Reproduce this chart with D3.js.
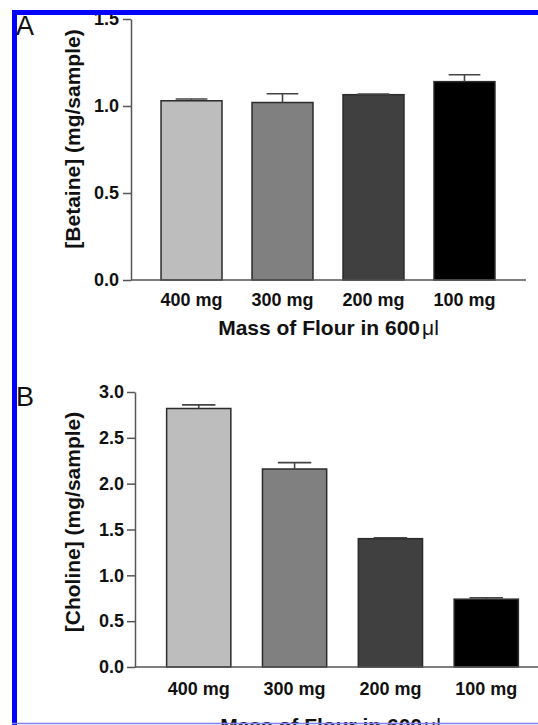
<!DOCTYPE html>
<html>
<head>
<meta charset="utf-8">
<script src="https://cdn.jsdelivr.net/npm/d3@7"></script>
<style>
  body { margin: 0; background: #fff; }
  svg { display: block; font-family: "Liberation Sans", Arial, sans-serif; }
</style>
</head>
<body>
<div id="chart"></div>
<script>
// data
const categories = ["400 mg", "300 mg", "200 mg", "100 mg"];
const betaineMeans = [1.03, 1.02, 1.065, 1.14];
const betaineErr = [0.01, 0.05, 0.003, 0.04];
const cholineMeans = [2.82, 2.16, 1.40, 0.74];
const cholineErr = [0.04, 0.07, 0.01, 0.015];
const betaineTicks = [0, 0.5, 1.0, 1.5];
const cholineTicks = [0, 0.5, 1.0, 1.5, 2.0, 2.5, 3.0];

const width = 538, height = 725;

const svg = d3.select("#chart")
    .append("svg")
    .attr("width", width)
    .attr("height", height);

// grey levels for the four bars
const fill = d3.scaleOrdinal()
    .domain(categories)
    .range(["#bdbdbd", "#808080", "#404040", "#000000"]);

function panel(opts) {
    const g = svg.append("g");

    const x = d3.scaleBand()
        .domain(categories)
        .range(opts.xRange)
        .paddingInner(0.33)
        .paddingOuter(0.33);

    const y = d3.scaleLinear()
        .domain([0, d3.max(opts.ticks)])
        .range(opts.yRange);

    const rows = categories.map((c, i) => ({ cat: c, mean: opts.means[i], err: opts.errs[i] }));

    // bars
    g.selectAll("rect.bar")
        .data(rows)
        .enter()
        .append("rect")
        .attr("class", "bar")
        .attr("x", d => x(d.cat))
        .attr("y", d => y(d.mean))
        .attr("width", x.bandwidth())
        .attr("height", d => y(0) - y(d.mean))
        .attr("fill", d => fill(d.cat))
        .attr("stroke", "#2b2b2b")
        .attr("stroke-width", 1.5);

    // upper error bars
    const capW = x.bandwidth() * 0.52;
    const eb = g.selectAll("g.err")
        .data(rows)
        .enter()
        .append("g")
        .attr("class", "err")
        .attr("stroke", "#444")
        .attr("stroke-width", 1.6);
    eb.append("line")
        .attr("x1", d => x(d.cat) + x.bandwidth() / 2)
        .attr("x2", d => x(d.cat) + x.bandwidth() / 2)
        .attr("y1", d => y(d.mean))
        .attr("y2", d => y(d.mean + d.err));
    eb.append("line")
        .attr("x1", d => x(d.cat) + x.bandwidth() / 2 - capW / 2)
        .attr("x2", d => x(d.cat) + x.bandwidth() / 2 + capW / 2)
        .attr("y1", d => y(d.mean + d.err))
        .attr("y2", d => y(d.mean + d.err));

    // y axis
    const yAxis = g.append("g")
        .attr("transform", "translate(" + opts.xRange[0] + ",0)")
        .call(d3.axisLeft(y)
            .tickValues(opts.ticks)
            .tickFormat(d3.format(".1f"))
            .tickSize(8)
            .tickSizeOuter(0)
            .tickPadding(opts.yPad));
    yAxis.select(".domain").attr("stroke", "#555").attr("stroke-width", 1.5);
    yAxis.selectAll(".tick line").attr("stroke", "#555").attr("stroke-width", 1.5);
    yAxis.selectAll(".tick text")
        .attr("fill", "#111")
        .style("font-size", "18px")
        .style("font-weight", "bold");

    // x axis: baseline only, labels under the bars
    const xAxis = g.append("g")
        .attr("transform", "translate(0," + y(0) + ")")
        .call(d3.axisBottom(x)
            .tickSize(0)
            .tickSizeOuter(0)
            .tickPadding(opts.xPad));
    xAxis.select(".domain")
        .attr("d", "M" + opts.xRange[0] + ",0H" + opts.xEnd)
        .attr("stroke", "#555")
        .attr("stroke-width", 1.5);
    xAxis.selectAll(".tick text")
        .attr("fill", "#111")
        .style("font-size", "18px")
        .style("font-weight", "bold");

    // axis titles
    const xt = g.append("text")
        .attr("x", (opts.xRange[0] + 526) / 2)
        .attr("y", opts.xTitleY)
        .attr("text-anchor", "middle")
        .attr("fill", "#111")
        .style("font-size", "21px")
        .style("font-weight", "bold");
    xt.append("tspan").text("Mass of Flour in 600");
    xt.append("tspan")
        .attr("dx", 2)
        .style("font-weight", "normal")
        .text("\u03bcl");

    g.append("text")
        .attr("transform", "translate(" + 80 + "," + opts.yTitleY + ") rotate(-90)")
        .attr("text-anchor", "middle")
        .attr("fill", "#111")
        .style("font-size", "21px")
        .style("font-weight", "bold")
        .text(opts.yTitle);

    // panel letter
    g.append("text")
        .attr("x", 16)
        .attr("y", opts.letterY)
        .attr("fill", "#111")
        .style("font-size", "27px")
        .text(opts.letter);
}

panel({
    letter: "A", letterY: 35,
    means: betaineMeans, errs: betaineErr, ticks: betaineTicks,
    xRange: [131, 525], xEnd: 526, yRange: [280, 19],
    yPad: 4, xPad: 13, xTitleY: 335,
    yTitle: "[Betaine] (mg/sample)", yTitleY: 139
});

panel({
    letter: "B", letterY: 406,
    means: cholineMeans, errs: cholineErr, ticks: cholineTicks,
    xRange: [135, 550], xEnd: 540, yRange: [667, 392],
    yPad: 3, xPad: 15, xTitleY: 733,
    yTitle: "[Choline] (mg/sample)", yTitleY: 522
});

// blue frame around the figure
svg.append("rect").attr("x", 12).attr("y", 10).attr("width", 526).attr("height", 5).attr("fill", "#0000ff");
svg.append("rect").attr("x", 12).attr("y", 10).attr("width", 5).attr("height", 715).attr("fill", "#0000ff");
svg.append("line")
    .attr("x1", 12).attr("x2", 538)
    .attr("y1", 723.5).attr("y2", 723.5)
    .attr("stroke", "#8080ff")
    .attr("stroke-width", 1.5);
</script>
</body>
</html>
